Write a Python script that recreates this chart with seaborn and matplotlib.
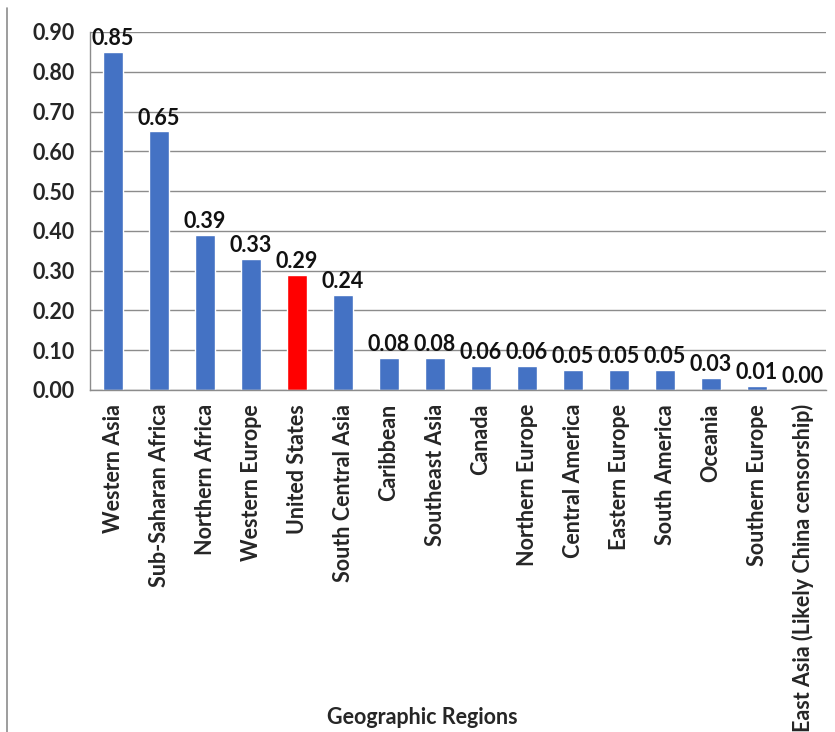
import matplotlib
matplotlib.use("Agg")
import matplotlib.pyplot as plt
import seaborn as sns
import pandas as pd
import numpy as np
from matplotlib.lines import Line2D

regions = ["Western Asia", "Sub-Saharan Africa", "Northern Africa", "Western Europe",
           "United States", "South Central Asia", "Caribbean", "Southeast Asia",
           "Canada", "Northern Europe", "Central America", "Eastern Europe",
           "South America", "Oceania", "Southern Europe",
           "East Asia (Likely China censorship)"]
values = [0.85, 0.65, 0.39, 0.33, 0.29, 0.24, 0.08, 0.08, 0.06, 0.06, 0.05, 0.05,
          0.05, 0.03, 0.01, 0.00]
highlight = "United States"
yticks = [0.0, 0.1, 0.2, 0.3, 0.4, 0.5, 0.6, 0.7, 0.8, 0.9]

df = pd.DataFrame({"region": regions, "value": values})
palette = {r: ("#FF0000" if r == highlight else "#4472C4") for r in regions}

sns.set_style("white")
plt.rcParams["font.family"] = ["Lato", "DejaVu Sans"]

FS = 15.5

fig = plt.figure(figsize=(8.35, 7.32), dpi=100)
ax = fig.add_axes([90/835, 1 - 390/732, (826-90)/835, (390-32)/732])

sns.barplot(data=df, x="region", y="value", hue="region", palette=palette,
            order=regions, hue_order=regions, width=0.42, legend=False,
            saturation=1, ax=ax)

for c in ax.containers:
    ax.bar_label(c, fmt="%.2f", padding=2, fontsize=FS, fontweight="bold",
                 color="#111111")

ax.set_ylim(0, 0.9)
ax.set_xlim(-0.5, len(regions) - 0.5)
ax.set_yticks(yticks)
ax.set_yticklabels([f"{v:.2f}" for v in yticks], fontsize=FS, fontweight="bold")
ax.yaxis.grid(True, color="#8c8c8c", linewidth=1)
ax.set_axisbelow(True)

ax.set_xticks(range(len(regions)))
ax.set_xticklabels(regions, rotation=90, fontsize=FS, fontweight="bold")
ax.tick_params(axis="x", which="major", length=0, pad=10)
ax.set_xticks(np.arange(-0.5, len(regions), 1.0), minor=True)
ax.tick_params(axis="x", which="minor", length=5, color="#8c8c8c", direction="out")
ax.tick_params(axis="y", length=5, color="#8c8c8c", direction="out", pad=6)

for s in ["top", "right"]:
    ax.spines[s].set_visible(False)
for s in ["left", "bottom"]:
    ax.spines[s].set_color("#8c8c8c")
    ax.spines[s].set_linewidth(1)

ax.set_ylabel("")
ax.set_xlabel("Geographic Regions", fontsize=FS, fontweight="bold")
ax.xaxis.set_label_coords((422-90)/(826-90), 1 - (718-32)/(390-32))
ax.xaxis.label.set_verticalalignment("center")

fig.add_artist(Line2D([7/835, 7/835], [0, 1 - 8/732], color="#8c8c8c", linewidth=1.2,
                      transform=fig.transFigure))

fig.savefig("out.png", dpi=100)
